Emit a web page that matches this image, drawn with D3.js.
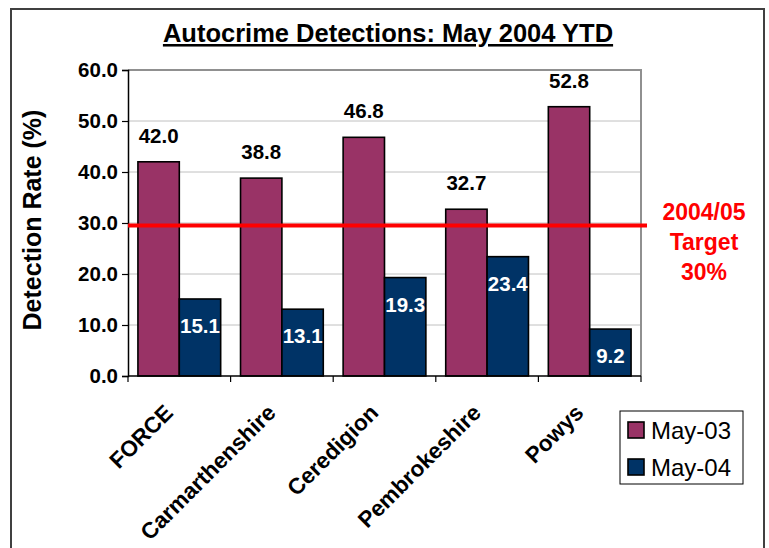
<!DOCTYPE html>
<html>
<head>
<meta charset="utf-8">
<script src="https://cdn.jsdelivr.net/npm/d3@7"></script>
<style>
  body { margin: 0; background: #fff; }
  text { font-family: "Liberation Sans", Arial, sans-serif; }
</style>
</head>
<body>
<svg width="769" height="548"></svg>
<script>
const categories = ['FORCE', 'Carmarthenshire', 'Ceredigion', 'Pembrokeshire', 'Powys'];
const may03 = [42.0, 38.8, 46.8, 32.7, 52.8];
const may04 = [15.1, 13.1, 19.3, 23.4, 9.2];
const seriesNames = ['May-03', 'May-04'];
const yTicks = [0, 10, 20, 30, 40, 50, 60];
const targetValue = 29.5; // where the red line sits in the picture
const targetText = ['2004/05', 'Target', '30%'];

const colors = ['#993366', '#003366'];

let svg = d3.select('svg');

// outer frame (bottom edge falls outside the picture)
svg.append('path')
  .attr('d', 'M11,560 V9 H764 V560')
  .attr('fill', 'none')
  .attr('stroke', '#404040')
  .attr('stroke-width', 2);

const plot = { left: 128, right: 641, top: 70, bottom: 376 };

const x = d3.scaleBand()
  .domain(categories)
  .range([plot.left, plot.right]);

const xSeries = d3.scaleBand()
  .domain(seriesNames)
  .range([0, x.bandwidth()])
  .paddingOuter(0.24)
  .paddingInner(0);

const y = d3.scaleLinear()
  .domain([0, 60])
  .range([plot.bottom, plot.top]);

// title
svg.append('text')
  .attr('x', 388)
  .attr('y', 42)
  .attr('text-anchor', 'middle')
  .attr('font-size', 25.5)
  .attr('font-weight', 'bold')
  .style('text-decoration', 'underline')
  .text('Autocrime Detections: May 2004 YTD');

// gridlines
svg.append('g')
  .selectAll('line')
  .data(yTicks.slice(1, -1))
  .enter()
  .append('line')
  .attr('x1', plot.left)
  .attr('x2', plot.right)
  .attr('y1', d => y(d))
  .attr('y2', d => y(d))
  .attr('stroke', '#c0c0c0')
  .attr('stroke-width', 1);

// plot area top/right border
svg.append('path')
  .attr('d', `M${plot.left},${plot.top} H${plot.right} V${plot.bottom}`)
  .attr('fill', 'none')
  .attr('stroke', '#909090')
  .attr('stroke-width', 2);

// bars
const groups = svg.append('g')
  .selectAll('g')
  .data(categories)
  .enter()
  .append('g')
  .attr('transform', d => `translate(${x(d)},0)`);

const barData = (c, i) => [
  { s: seriesNames[0], v: may03[i] },
  { s: seriesNames[1], v: may04[i] }
];

groups.selectAll('rect')
  .data(barData)
  .enter()
  .append('rect')
  .attr('x', d => xSeries(d.s))
  .attr('y', d => y(d.v))
  .attr('width', xSeries.bandwidth())
  .attr('height', d => y(0) - y(d.v))
  .attr('fill', (d, i) => colors[i])
  .attr('stroke', '#000')
  .attr('stroke-width', 1.6);

// value labels
groups.selectAll('text')
  .data(barData)
  .enter()
  .append('text')
  .attr('x', d => xSeries(d.s) + xSeries.bandwidth() / 2)
  .attr('y', (d, i) => i === 0 ? y(d.v) - 26 : y(d.v) + 27)
  .attr('dy', '0.35em')
  .attr('text-anchor', 'middle')
  .attr('font-size', 20.5)
  .attr('font-weight', 'bold')
  .attr('fill', (d, i) => i === 0 ? '#000' : '#fff')
  .text(d => d.v.toFixed(1));

// y axis
const yAxis = svg.append('g')
  .attr('transform', `translate(${plot.left},0)`)
  .call(d3.axisLeft(y).tickValues(yTicks).tickFormat(d3.format('.1f')).tickSize(6).tickPadding(4));
yAxis.select('.domain').attr('stroke', '#000').attr('stroke-width', 1.5);
yAxis.selectAll('.tick line').attr('stroke', '#000').attr('stroke-width', 1.2);
yAxis.selectAll('.tick text')
  .attr('font-size', 20.5)
  .attr('font-weight', 'bold')
  .attr('font-family', '"Liberation Sans", Arial, sans-serif')
  .attr('fill', '#000');

// x axis
svg.append('line')
  .attr('x1', plot.left)
  .attr('x2', plot.right)
  .attr('y1', plot.bottom)
  .attr('y2', plot.bottom)
  .attr('stroke', '#000')
  .attr('stroke-width', 1.5);

svg.append('g')
  .selectAll('line')
  .data(categories.concat(['end']))
  .enter()
  .append('line')
  .attr('x1', (d, i) => i < categories.length ? x(d) : plot.right)
  .attr('x2', (d, i) => i < categories.length ? x(d) : plot.right)
  .attr('y1', plot.bottom)
  .attr('y2', plot.bottom + 6)
  .attr('stroke', '#000')
  .attr('stroke-width', 1.2);

svg.append('g')
  .selectAll('text')
  .data(categories)
  .enter()
  .append('text')
  .attr('transform', d => `translate(${x(d) + x.bandwidth() / 2 - 16},${plot.bottom + 27}) rotate(-45)`)
  .attr('text-anchor', 'end')
  .attr('dy', '0.7em')
  .attr('font-size', 22.5)
  .attr('font-weight', 'bold')
  .text(d => d);

// y axis title
svg.append('text')
  .attr('transform', `translate(41,${(plot.top + plot.bottom) / 2 - 3}) rotate(-90)`)
  .attr('text-anchor', 'middle')
  .attr('font-size', 25)
  .attr('font-weight', 'bold')
  .text('Detection Rate (%)');

// target line
svg.append('line')
  .attr('x1', plot.left)
  .attr('x2', plot.right + 6)
  .attr('y1', y(targetValue))
  .attr('y2', y(targetValue))
  .attr('stroke', '#ff0000')
  .attr('stroke-width', 4);

svg.append('g')
  .selectAll('text')
  .data(targetText)
  .enter()
  .append('text')
  .attr('x', 704)
  .attr('y', (d, i) => 212 + i * 30)
  .attr('dy', '0.35em')
  .attr('text-anchor', 'middle')
  .attr('font-size', 23)
  .attr('font-weight', 'bold')
  .attr('fill', '#ff0000')
  .text(d => d);

// legend
const legend = svg.append('g');
legend.append('rect')
  .attr('x', 620)
  .attr('y', 411)
  .attr('width', 123)
  .attr('height', 73)
  .attr('fill', '#fff')
  .attr('stroke', '#000')
  .attr('stroke-width', 1);

const items = legend.selectAll('g')
  .data(seriesNames)
  .enter()
  .append('g')
  .attr('transform', (d, i) => `translate(628,${430 + i * 37})`);

items.append('rect')
  .attr('x', 0)
  .attr('y', -8)
  .attr('width', 16)
  .attr('height', 16)
  .attr('fill', (d, i) => colors[i])
  .attr('stroke', '#000')
  .attr('stroke-width', 1.6);

items.append('text')
  .attr('x', 23)
  .attr('dy', '0.36em')
  .attr('font-size', 24)
  .text(d => d);
</script>
</body>
</html>
